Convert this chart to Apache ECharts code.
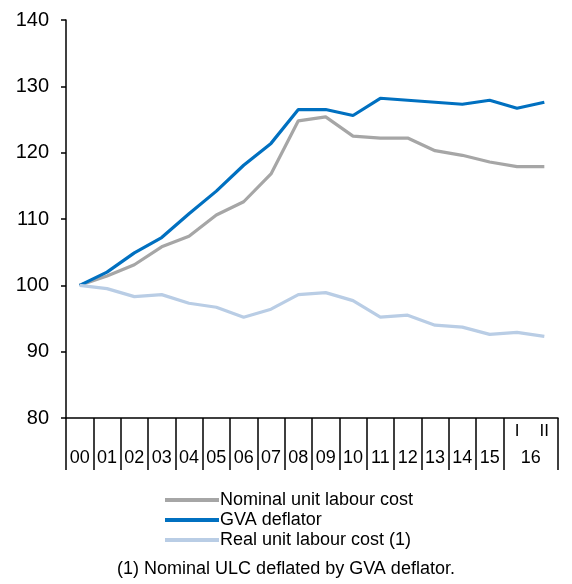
<!DOCTYPE html>
<html>
<head>
<meta charset="utf-8">
<script src="https://cdn.jsdelivr.net/npm/echarts@6/dist/echarts.min.js"></script>
<style>
  html, body { margin: 0; padding: 0; background: #fff; }
  #chart { width: 572px; height: 584px; }
</style>
</head>
<body>
<div id="chart"></div>
<script>
// categories: yearly 00..15, then 2016 quarters I and II
const categories = ['00','01','02','03','04','05','06','07','08','09','10','11','12','13','14','15','16-I','16-II'];
const yearLabels = ['00','01','02','03','04','05','06','07','08','09','10','11','12','13','14','15','16'];

const nominalULC = [100, 101.4, 103.1, 105.8, 107.4, 110.6, 112.6, 116.8, 124.8, 125.4, 122.5, 122.2, 122.2, 120.3, 119.6, 118.6, 117.9, 117.9];
const gvaDeflator = [100, 102.0, 104.9, 107.2, 110.8, 114.2, 118.1, 121.4, 126.5, 126.5, 125.6, 128.2, 127.9, 127.6, 127.3, 127.9, 126.7, 127.6];
const realULC = [100, 99.5, 98.3, 98.6, 97.3, 96.7, 95.2, 96.4, 98.6, 98.9, 97.7, 95.2, 95.5, 94.0, 93.7, 92.6, 92.9, 92.3];

const yTicks = { min: 80, max: 140, interval: 10 };
const footnote = '(1) Nominal ULC deflated by GVA deflator.';

const font = 'Liberation Sans, Arial, sans-serif';
const chart = echarts.init(document.getElementById('chart'));

// year ticks: every boundary except the one between the quarters
const nYears = 16;
const yearTickPos = [];
for (let i = 0; i <= nYears; i++) yearTickPos.push(i);
yearTickPos.push(categories.length);
const yearLabelPos = [];
for (let i = 0; i < nYears; i++) yearLabelPos.push(i + 0.5);
yearLabelPos.push(nYears + 1);

function line(name, data, color) {
  return {
    name: name,
    type: 'line',
    data: data,
    symbol: 'none',
    lineStyle: { color: color, width: 3.2 },
    itemStyle: { color: color },
    z: 3
  };
}

chart.setOption({
  animation: false,
  textStyle: { fontFamily: font },
  grid: { left: 66, right: 14, top: 20, bottom: 166 },
  xAxis: [
    {
      type: 'category',
      data: categories,
      boundaryGap: true,
      axisLine: { lineStyle: { color: '#000', width: 1.5 } },
      axisTick: { length: 25, lineStyle: { color: '#000', width: 1.5 } },
      axisLabel: {
        interval: 0, margin: 5, color: '#000', fontSize: 17, fontFamily: font,
        formatter: v => v.indexOf('-') >= 0 ? v.split('-')[1] : ''
      },
      splitLine: { show: false }
    },
    {
      type: 'value',
      position: 'bottom',
      min: 0,
      max: categories.length,
      axisLine: { show: false },
      splitLine: { show: false },
      axisTick: {
        show: true, length: 52, customValues: yearTickPos,
        lineStyle: { color: '#000', width: 1.5 }
      },
      axisLabel: {
        margin: 31, color: '#000', fontSize: 18, fontFamily: font,
        customValues: yearLabelPos,
        formatter: v => v > nYears ? yearLabels[nYears] : yearLabels[Math.floor(v)]
      }
    }
  ],
  yAxis: {
    type: 'value',
    min: yTicks.min,
    max: yTicks.max,
    interval: yTicks.interval,
    axisLine: { show: true, lineStyle: { color: '#000', width: 1.5 } },
    axisTick: { show: true, length: 5, lineStyle: { color: '#000', width: 1.5 } },
    axisLabel: { margin: 17, color: '#000', fontSize: 20, fontFamily: font },
    splitLine: { show: false }
  },
  legend: {
    orient: 'vertical',
    left: 160,
    top: 486,
    icon: 'rect',
    itemWidth: 54,
    itemHeight: 4,
    itemGap: 2,
    textStyle: { color: '#000', fontSize: 18, lineHeight: 18, fontFamily: font, padding: [0, 0, 0, -4] },
    data: ['Nominal unit labour cost', 'GVA deflator', 'Real unit labour cost (1)']
  },
  title: {
    text: footnote,
    left: 'center',
    top: 560,
    textStyle: { color: '#000', fontSize: 18, fontWeight: 'normal', fontFamily: font },
    padding: 0
  },
  series: [
    line('Nominal unit labour cost', nominalULC, '#a6a6a6'),
    line('GVA deflator', gvaDeflator, '#0070c0'),
    line('Real unit labour cost (1)', realULC, '#b9cde5')
  ]
});
</script>
</body>
</html>
